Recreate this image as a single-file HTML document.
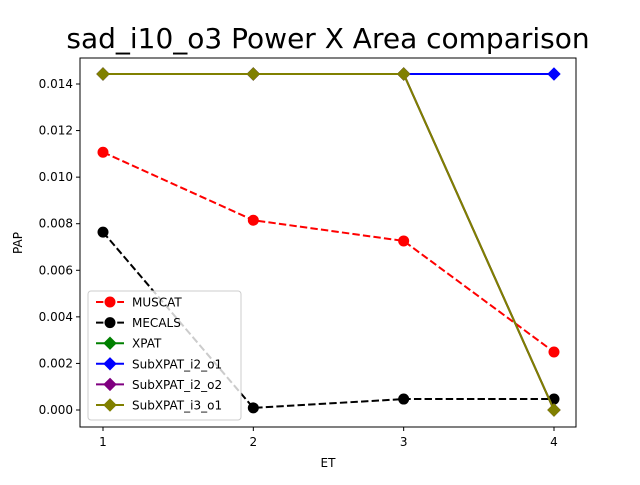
<!DOCTYPE html>
<html><head><meta charset="utf-8"><style>
body{margin:0;background:#fff}
svg{font-family:"DejaVu Sans","Liberation Sans",sans-serif}
</style></head><body>
<svg id="c" width="640" height="480" xmlns="http://www.w3.org/2000/svg">
<rect width="640" height="480" fill="#fff"/>
<text x="328" y="48" font-size="28" text-anchor="middle">sad_i10_o3 Power X Area comparison</text>
<g id="axes"></g>
<g id="series"></g>
<rect x="80" y="58" width="496" height="369" fill="none" stroke="#000" stroke-width="1"/>
<g id="legend"></g>
<text x="328" y="467" font-size="12" text-anchor="middle">ET</text>
<text x="22" y="243" font-size="12" text-anchor="middle" transform="rotate(-90 22 243)">PAP</text>
</svg>
<script>
const categories=[1,2,3,4];
const yTicks=[0,0.002,0.004,0.006,0.008,0.010,0.012,0.014];
const yTickLabels=["0.000","0.002","0.004","0.006","0.008","0.010","0.012","0.014"];
const seriesNames=["MUSCAT","MECALS","XPAT","SubXPAT_i2_o1","SubXPAT_i2_o2","SubXPAT_i3_o1"];
const muscat=[0.01107,0.00815,0.00726,0.00249];
const mecals=[0.00764,0.00009,0.00047,0.00047];
const xpat=[0.01443,0.01443,0.01443,0];
const sub_i2_o1=[0.01443,0.01443,0.01443,0.01443];
const sub_i2_o2=[0.01443,0.01443,0.01443,0];
const sub_i3_o1=[0.01443,0.01443,0.01443,0];
const seriesValues=[muscat,mecals,xpat,sub_i2_o1,sub_i2_o2,sub_i3_o1];
const colors=["red","black","green","blue","purple","olive"];
const dashed=[true,true,false,false,false,false];
const marker=["o","o","D","D","D","D"];
const NS="http://www.w3.org/2000/svg";
const xS=v=>103+(v-1)*150.33;
const yS=v=>410-v*23286;
function mk(t,a,p){const e=document.createElementNS(NS,t);for(const k in a)e.setAttribute(k,a[k]);p.appendChild(e);return e;}
const ax=document.getElementById('axes');
yTicks.forEach((t,i)=>{const y=yS(t);
 const l=mk('line',{x1:76,x2:80,y1:y,y2:y,stroke:'#000'},ax);
 
 
 const tx=mk('text',{x:73,y:y+4,'font-size':12,'text-anchor':'end'},ax);tx.textContent=yTickLabels[i];
 
 
});
categories.forEach(c=>{const x=xS(c);
 const l=mk('line',{x1:x,x2:x,y1:427,y2:431,stroke:'#000'},ax);
 
 
 const tx=mk('text',{x:x,y:446,'font-size':12,'text-anchor':'middle'},ax);tx.textContent=c;
 
 
});
function drawMarker(g,m,x,y,col){
 if(m==="o") return mk('circle',{cx:x,cy:y,r:5,fill:col,stroke:col},g);
 return mk('polygon',{points:`${x},${y-6} ${x+6},${y} ${x},${y+6} ${x-6},${y}`,fill:col,stroke:col},g);
}
const sg=document.getElementById('series');
seriesValues.forEach((vals,i)=>{
 const g=mk('g',{},sg);
 
 
 const pts=vals.map((v,j)=>xS(categories[j])+','+yS(v)).join(' ');
 const pl=mk('polyline',{points:pts,fill:'none',stroke:colors[i],'stroke-width':2,'stroke-dasharray':dashed[i]?'7.4,3.2':'none'},g);
 
 
 vals.forEach((v,j)=>{const m=drawMarker(g,marker[i],xS(categories[j]),yS(v),colors[i]);
  
  });
});
const lg=document.getElementById('legend');
const lb=mk('rect',{x:88,y:291,width:153,height:129,rx:3,fill:'#fff','fill-opacity':0.8,stroke:'#ccc'},lg);


seriesNames.forEach((n,i)=>{const y=302+i*20.6;
 const g=mk('g',{},lg);
 
 
 mk('line',{x1:96,x2:124,y1:y,y2:y,stroke:colors[i],'stroke-width':2,'stroke-dasharray':dashed[i]?'7.4,3.2':'none'},g);
 drawMarker(g,marker[i],110,y,colors[i]);
 const t=mk('text',{x:132,y:y+4.5,'font-size':12},g);t.textContent=n;
});
</script>
</body></html>
